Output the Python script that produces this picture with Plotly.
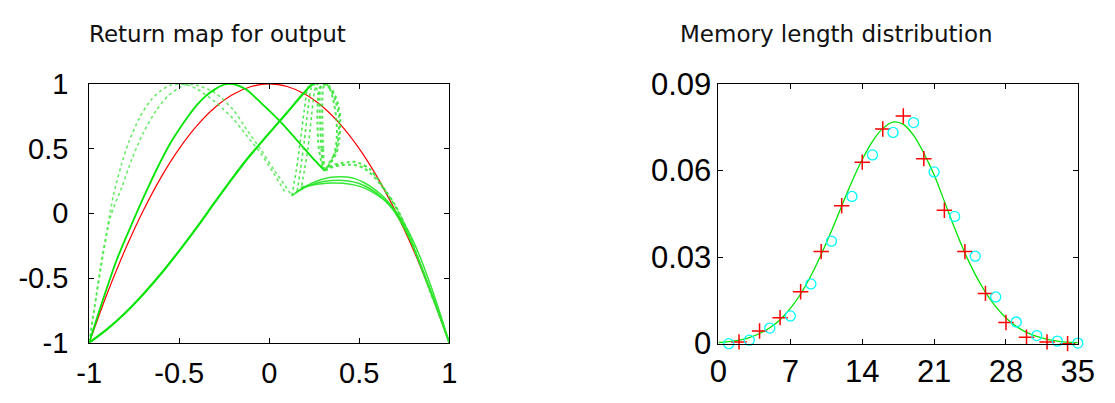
import plotly.graph_objects as go

W, H = 1115, 403

# ---------------- Left panel: return map ----------------
red_x = [-1, -0.9, -0.8, -0.7, -0.6, -0.5, -0.4, -0.3, -0.2, -0.1, 0,
         0.1, 0.2, 0.3, 0.4, 0.5, 0.6, 0.7, 0.8, 0.9, 1]
red_y = [-1, -0.62, -0.28, 0.02, 0.28, 0.5, 0.68, 0.82, 0.92, 0.98, 1,
         0.98, 0.92, 0.82, 0.68, 0.5, 0.28, 0.02, -0.28, -0.62, -1]

# sparse dotted arcs (peak near x=-0.5)
arc1_x = [-1, -0.97, -0.937, -0.9, -0.865, -0.82, -0.78, -0.72, -0.66, -0.6, -0.55,
          -0.5, -0.45, -0.4, -0.3, -0.2, -0.126, -0.05, 0.02, 0.085]
arc1_y = [-1, -0.72, -0.41, -0.12, 0.14, 0.38, 0.55, 0.74, 0.87, 0.95, 0.99,
          1.0, 0.99, 0.96, 0.86, 0.73, 0.602, 0.47, 0.32, 0.17]
arc2_x = [-1, -0.96, -0.92, -0.88, -0.819, -0.76, -0.7, -0.63, -0.56, -0.5, -0.45,
          -0.4, -0.3, -0.2, -0.126, -0.05, 0.03, 0.126]
arc2_y = [-1, -0.64, -0.3, -0.02, 0.2, 0.43, 0.62, 0.79, 0.91, 0.97, 1.0,
          0.99, 0.93, 0.8, 0.649, 0.5, 0.33, 0.136]

# solid arc peaking near x=-0.22, descending to the upper valley
arc3_x = [-1, -0.95, -0.9, -0.85, -0.775, -0.676, -0.6, -0.55, -0.5, -0.45, -0.4, -0.35, -0.3,
          -0.26, -0.225, -0.18, -0.126, -0.05, 0.054, 0.162, 0.252, 0.306]
arc3_y = [-1, -0.78, -0.57, -0.37, -0.12, 0.19, 0.41, 0.54, 0.65, 0.75, 0.84, 0.91, 0.96,
          0.99, 1.0, 0.99, 0.955, 0.86, 0.72, 0.553, 0.411, 0.332]

# near-linear rising branch
diag_x = [-1, -0.9, -0.8, -0.7, -0.6, -0.5, -0.4, -0.3, -0.2, -0.126, 0, 0.1, 0.18, 0.234, 0.25]
diag_y = [-1, -0.895, -0.77, -0.625, -0.465, -0.29, -0.105, 0.09, 0.28, 0.414, 0.62, 0.78, 0.91, 0.99, 1.0]

# left loop legs
lega_x = [0.126, 0.15, 0.172, 0.195, 0.21, 0.225, 0.24]
lega_y = [0.136, 0.33, 0.55, 0.8, 0.95, 1.0, 0.98]
legb_x = [0.155, 0.175, 0.195, 0.215, 0.232, 0.245, 0.26, 0.27]
legb_y = [0.17, 0.35, 0.56, 0.8, 0.96, 1.0, 0.98, 0.92]
legc_x = [0.18, 0.195, 0.215, 0.235, 0.25, 0.265, 0.28]
legc_y = [0.214, 0.33, 0.5, 0.75, 0.93, 1.0, 0.97]

# right teardrop loop
loop1_x = [0.306, 0.29, 0.283, 0.28, 0.283, 0.295, 0.315, 0.343, 0.37, 0.388, 0.385, 0.37, 0.343, 0.306]
loop1_y = [0.332, 0.5, 0.7, 0.86, 0.96, 1.0, 0.99, 0.953, 0.86, 0.741, 0.6, 0.48, 0.411, 0.332]
loop2_x = [0.31, 0.3, 0.295, 0.295, 0.3, 0.315, 0.335, 0.355, 0.372, 0.376, 0.365, 0.345, 0.31]
loop2_y = [0.34, 0.5, 0.7, 0.88, 0.97, 1.0, 0.97, 0.88, 0.74, 0.6, 0.48, 0.4, 0.34]
loop3_x = [0.306, 0.276, 0.268, 0.27, 0.28, 0.3, 0.33, 0.36, 0.385, 0.395, 0.39, 0.372, 0.34, 0.306]
loop3_y = [0.332, 0.5, 0.7, 0.87, 0.97, 1.0, 0.985, 0.93, 0.83, 0.72, 0.58, 0.46, 0.39, 0.332]

# lower humps
hump1_x = [0.126, 0.18, 0.234, 0.29, 0.343, 0.39, 0.432, 0.48, 0.523, 0.57, 0.613, 0.66, 0.72, 0.78, 0.85, 0.92, 1.0]
hump1_y = [0.136, 0.19, 0.232, 0.262, 0.278, 0.283, 0.28, 0.266, 0.24, 0.2, 0.155, 0.09, -0.03, -0.19, -0.43, -0.69, -1.0]
hump2_x = [0.15, 0.2, 0.26, 0.32, 0.38, 0.44, 0.5, 0.56, 0.62, 0.68, 0.74, 0.8, 0.87, 0.94, 1.0]
hump2_y = [0.16, 0.2, 0.232, 0.25, 0.256, 0.25, 0.23, 0.19, 0.13, 0.04, -0.09, -0.26, -0.5, -0.76, -1.0]
hump3_x = [0.175, 0.23, 0.29, 0.35, 0.41, 0.47, 0.53, 0.59, 0.65, 0.71, 0.77, 0.83, 0.9, 0.96, 1.0]
hump3_y = [0.2, 0.215, 0.228, 0.234, 0.232, 0.22, 0.195, 0.15, 0.09, 0.0, -0.13, -0.31, -0.57, -0.82, -1.0]

# upper hump
upper1_x = [0.306, 0.35, 0.397, 0.44, 0.469, 0.505, 0.559, 0.6, 0.649, 0.703, 0.76, 0.82, 0.88, 0.94, 1.0]
upper1_y = [0.332, 0.37, 0.388, 0.395, 0.398, 0.385, 0.341, 0.27, 0.17, 0.055, -0.11, -0.33, -0.55, -0.77, -1.0]
upper2_x = [0.31, 0.355, 0.4, 0.445, 0.49, 0.53, 0.57, 0.62, 0.665, 0.71, 0.77, 0.83, 0.89, 0.95, 1.0]
upper2_y = [0.33, 0.36, 0.372, 0.376, 0.37, 0.345, 0.3, 0.22, 0.13, 0.03, -0.14, -0.36, -0.59, -0.8, -1.0]

left_ticks = [-1, -0.5, 0, 0.5, 1]
left_ticktext = ["-1", "-0.5", "0", "0.5", "1"]

# ---------------- Right panel: memory length distribution ----------------
cross_x = [2, 4, 6, 8, 10, 12, 14, 16, 18, 20, 22, 24, 26, 28, 30, 32, 34]
cross_y = [0.0006, 0.0044, 0.0090, 0.0180, 0.0319, 0.0478, 0.0629, 0.0744, 0.0789,
           0.0641, 0.0462, 0.0319, 0.0174, 0.0073, 0.0022, 0.0006, 0.0]
circle_x = [1, 3, 5, 7, 9, 11, 13, 15, 17, 19, 21, 23, 25, 27, 29, 31, 33, 35]
circle_y = [0.0, 0.0012, 0.0054, 0.0096, 0.0207, 0.0355, 0.0510, 0.0654, 0.0732,
            0.0766, 0.0595, 0.0441, 0.0303, 0.0162, 0.0075, 0.0028, 0.0009, 0.0002]
curve_x = list(range(0, 36))
curve_y = [0.0004, 0.0007, 0.0012, 0.0021, 0.0035, 0.0055, 0.0083, 0.0122, 0.0172, 0.0235,
           0.0309, 0.0390, 0.0477, 0.0562, 0.0638, 0.0701, 0.0746, 0.0768, 0.0760, 0.0722,
           0.0660, 0.0585, 0.0493, 0.0400, 0.0314, 0.0240, 0.0178, 0.0128, 0.0089, 0.0060,
           0.0039, 0.0025, 0.0015, 0.0009, 0.0005, 0.0003]
right_xticks = [0, 7, 14, 21, 28, 35]
right_yticks = [0, 0.03, 0.06, 0.09]
right_yticktext = ["0", "0.03", "0.06", "0.09"]

GREEN = "#00e400"
fig = go.Figure()

def add_branch(xs, ys, width=1.8, color=GREEN, dash="solid", opacity=1.0):
    fig.add_trace(go.Scatter(x=xs, y=ys, mode="lines", xaxis="x", yaxis="y",
                             line=dict(color=color, width=width, dash=dash, shape="spline", smoothing=0.8),
                             opacity=opacity, hoverinfo="skip", showlegend=False))

add_branch(red_x, red_y, width=1.2, color="#ff0000")
add_branch(arc1_x, arc1_y, width=1.6, color="#44e844", dash="dot", opacity=0.8)
add_branch(arc2_x, arc2_y, width=1.6, color="#44e844", dash="dot", opacity=0.8)
add_branch(arc3_x, arc3_y, width=1.8)
add_branch(diag_x, diag_y, width=2.2)
for lx, ly in [(lega_x, lega_y), (legb_x, legb_y), (legc_x, legc_y)]:
    add_branch(lx, ly, width=1.5, color="#33e633", dash="dot", opacity=0.9)
for lx, ly in [(loop1_x, loop1_y), (loop2_x, loop2_y), (loop3_x, loop3_y)]:
    add_branch(lx, ly, width=2.0, color="#33e633", dash="dot", opacity=0.85)
for hx, hy in [(hump1_x, hump1_y), (hump2_x, hump2_y), (hump3_x, hump3_y)]:
    add_branch(hx, hy, width=1.5, color="#22e622", opacity=0.9)
for ux, uy in [(upper1_x, upper1_y), (upper2_x, upper2_y)]:
    add_branch(ux, uy, width=2.0, color="#33e633", dash="dot", opacity=0.9)

# right panel
fig.add_trace(go.Scatter(x=curve_x, y=curve_y, mode="lines", xaxis="x2", yaxis="y2",
                         line=dict(color=GREEN, width=1.3, shape="spline", smoothing=1.0),
                         hoverinfo="skip", showlegend=False))
fig.add_trace(go.Scatter(x=cross_x, y=cross_y, mode="markers", xaxis="x2", yaxis="y2",
                         marker=dict(symbol="cross-thin", size=11, line=dict(color="#ff0000", width=1.5)),
                         cliponaxis=False, hoverinfo="skip", showlegend=False))
fig.add_trace(go.Scatter(x=circle_x, y=circle_y, mode="markers", xaxis="x2", yaxis="y2",
                         marker=dict(symbol="circle-open", size=10, color="#00ffff", line=dict(color="#00e8e8", width=1.3)),
                         cliponaxis=False, hoverinfo="skip", showlegend=False))

axis_common = dict(showgrid=False, zeroline=False, showline=True, linecolor="black", linewidth=1,
                   mirror="ticks", ticks="inside", ticklen=5, tickcolor="black", tickwidth=1)
LFONT = dict(family="Liberation Sans, Arial, sans-serif", size=29, color="black")
RFONT = dict(family="Liberation Sans, Arial, sans-serif", size=31, color="black")

fig.update_layout(
    width=W, height=H, margin=dict(l=0, r=0, t=0, b=0),
    paper_bgcolor="white", plot_bgcolor="white",
    xaxis=dict(domain=[78.3 / W, 448.3 / W], range=[-1, 1], tickvals=left_ticks, ticktext=left_ticktext,
               tickfont=LFONT, anchor="y", ticklabelstandoff=4, **axis_common),
    yaxis=dict(domain=[(H - 356.7) / H, (H - 73.3) / H], range=[-1, 1], tickvals=left_ticks,
               ticktext=left_ticktext, tickfont=LFONT, anchor="x", ticklabelstandoff=14, **axis_common),
    xaxis2=dict(domain=[725 / W, 1094.3 / W], range=[0, 35], tickvals=right_xticks,
                tickfont=RFONT, anchor="y2", ticklabelstandoff=0, **axis_common),
    yaxis2=dict(domain=[(H - 357.7) / H, (H - 73.3) / H], range=[0, 0.09], tickvals=right_yticks,
                ticktext=right_yticktext, tickfont=RFONT, anchor="x2", ticklabelstandoff=0, **axis_common),
    annotations=[
        dict(text="Return map for output", xref="paper", yref="paper", x=76 / W, y=1 - 19 / H,
             xanchor="left", yanchor="middle", showarrow=False,
             font=dict(family="DejaVu Sans", size=23, color="#111111")),
        dict(text="Memory length distribution", xref="paper", yref="paper", x=683 / W, y=1 - 19 / H,
             xanchor="left", yanchor="middle", showarrow=False,
             font=dict(family="DejaVu Sans", size=23, color="#111111")),
    ],
)

fig.write_html("out.html", config={"displayModeBar": False},
               post_script="document.body.style.margin='0';document.body.style.overflow='hidden';")
